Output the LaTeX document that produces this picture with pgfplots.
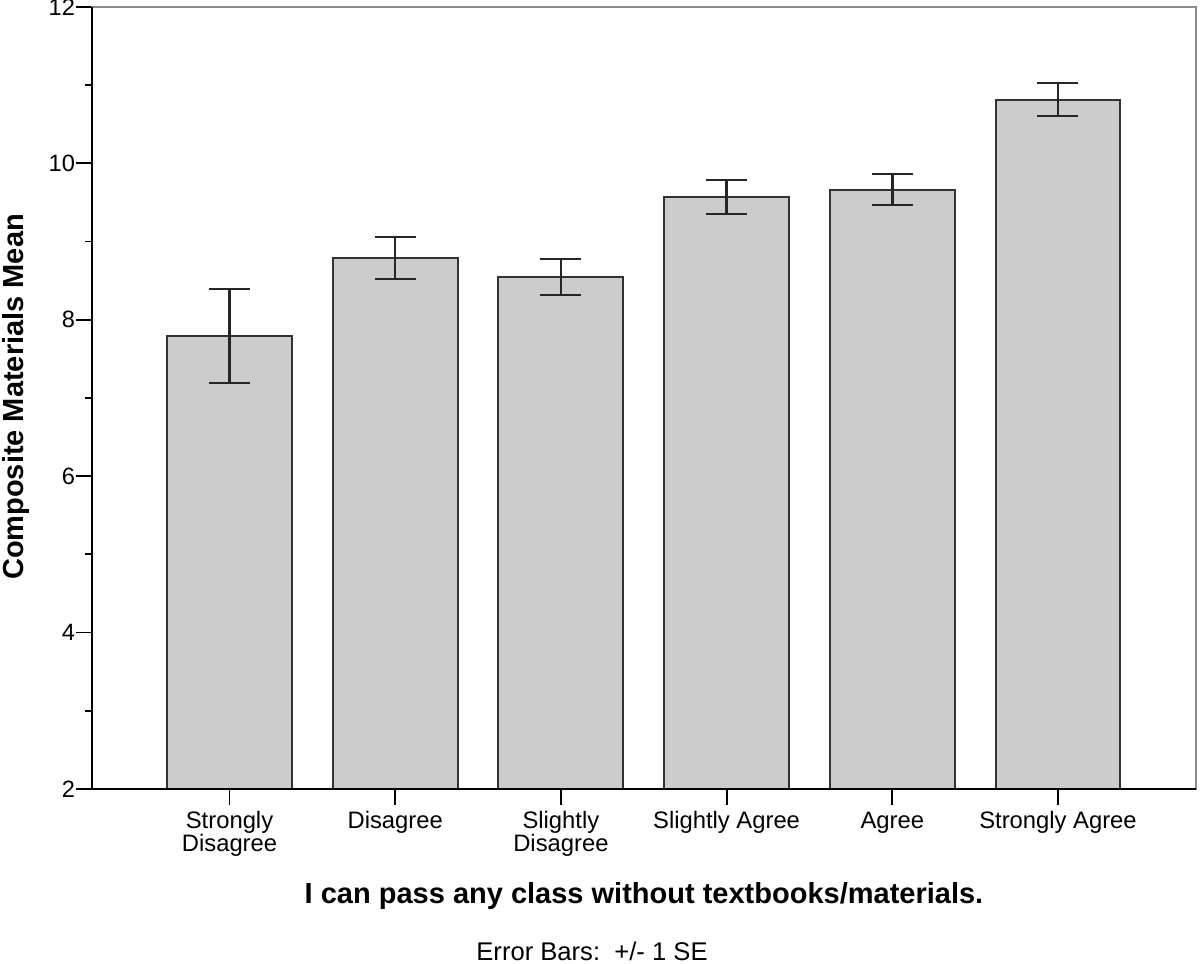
\documentclass[border=0pt]{standalone}
\usepackage{pgfplots}
\pgfplotsset{compat=1.18}
\usepackage{fontspec}
\setmainfont{Liberation Sans}
\definecolor{barfill}{RGB}{204,204,204}
\newcommand\st{\rule{0pt}{9.6pt}}
\pgfplotstableread{
x y e
0 7.795 0.60
1 8.790 0.27
2 8.550 0.23
3 9.570 0.22
4 9.665 0.20
5 10.815 0.21
}\datatable
\begin{document}
\begin{tikzpicture}
\useasboundingbox (0,0) rectangle (600pt,482pt);
\begin{axis}[
 at={(46pt,87.5pt)}, anchor=south west,
 scale only axis, width=552pt, height=391pt,
 xmin=-0.83, xmax=5.833, ymin=2, ymax=12,
 ytick={2,4,...,12}, minor y tick num=1,
 xtick={0,...,5},
 xticklabels={{\st Strongly\\Disagree},\st Disagree,{\st Slightly\\Disagree},\st Slightly Agree,\st Agree,\st Strongly Agree},
 xticklabel style={align=center, font=\fontsize{11.9}{11.5}\selectfont, anchor=north, yshift=1.5pt},
 yticklabel style={font=\fontsize{11.8}{13}\selectfont, xshift=3pt},
 /pgf/number format/assume math mode=true,
 tick align=outside, tick pos=left,
 major tick length=8pt, minor tick length=3.5pt,
 tick style={black, line width=0.9pt},
 axis line style={black!45, line width=0.8pt},
 xlabel={I can pass any class without textbooks/materials.},
 ylabel={Composite Materials Mean},
 label style={font=\fontsize{14.5}{16}\selectfont\bfseries},
 xlabel style={at={(axis description cs:0.5,-0.1458)}, anchor=base},
 ylabel style={at={(axis description cs:-0.0616,0.5013)}, anchor=base},
]
\addplot[ybar, bar width=0.754, fill=barfill, draw=black!80, line width=1pt,
 error bars/.cd, y dir=both, y explicit,
 error bar style={line width=1.2pt, black!85},
 error mark options={rotate=90, line width=1.2pt, black!85, mark size=10.25pt}]
 table[x=x, y=y, y error=e] {\datatable};
\end{axis}
\draw[black, line width=1pt] (46pt,478.5pt) -- (46pt,87.5pt) -- (598pt,87.5pt);
\node[font=\fontsize{12.8}{14}\selectfont, anchor=base] at (296pt,1.5pt) {Error Bars:\ \ +/- 1 SE};
\end{tikzpicture}
\end{document}
